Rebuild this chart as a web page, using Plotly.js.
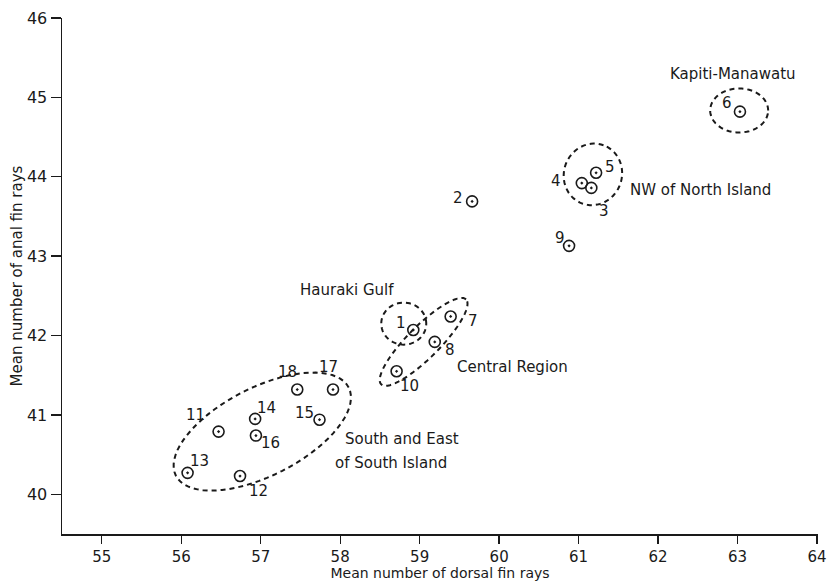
<!DOCTYPE html>
<html>
<head>
<meta charset="utf-8">
<script src="https://cdn.plot.ly/plotly-3.0.1.min.js"></script>
<style>html,body{margin:0;padding:0;background:#fff;}#chart{width:827px;height:584px;}</style>
</head>
<body>
<div id="chart"></div>
<script>
// ---- data ----
const sampleIds = ["1","2","3","4","5","6","7","8","9","10","11","12","13","14","15","16","17","18"];
const dorsalMeans = [58.92, 59.66, 61.16, 61.04, 61.22, 63.03, 59.39, 59.19, 60.88, 58.71, 56.47, 56.74, 56.08, 56.93, 57.74, 56.94, 57.91, 57.46];
const analMeans   = [42.07, 43.69, 43.86, 43.92, 44.05, 44.82, 42.24, 41.92, 43.13, 41.55, 40.79, 40.23, 40.27, 40.95, 40.94, 40.74, 41.32, 41.32];
const xTickVals = [55, 56, 57, 58, 59, 60, 61, 62, 63, 64];
const yTickVals = [40, 41, 42, 43, 44, 45, 46];

// ---- layout helpers (positions/styles, not data) ----
// pixel offsets of the number labels relative to each point
const labelOffsets = [[-12,7],[-14,3],[13,-23],[-26,2],[14,6],[-13,9],[22,-5],[15,-8],[-9,8],[13,-15],[-23,17],[18,-15],[12,12],[11,11],[-15,7],[15,-7],[-5,23],[-10,18]];
const regionNames = ["Kapiti-Manawatu","NW of North Island","Hauraki Gulf","Central Region","South and East","of South Island"];
const regionPos = [[62.94,45.29,"center"],[61.62,43.83,"left"],[57.47,42.58,"left"],[59.44,41.61,"left"],[58.04,40.70,"left"],[57.91,40.39,"left"]];
// ellipses: centre (data), semi-axes (px), rotation (deg, ccw)
const ellipses = [
  [63.02,44.835,29,22,0],
  [61.18,44.03,31,29,70],
  [58.80,42.15,22.5,21,0],
  [59.05,41.92,60,16,45],
  [57.02,40.79,97,44,27]
];
const SX = 79.5, SY = 79.3; // px per data unit

function ellipsePath(e){
  const [cx,cy,a,b,deg] = e; const th = deg*Math.PI/180; let p = "";
  for(let i=0;i<=72;i++){
    const t = i/72*2*Math.PI;
    const dx = a*Math.cos(th)*Math.cos(t) - b*Math.sin(th)*Math.sin(t);
    const dy = a*Math.sin(th)*Math.cos(t) + b*Math.cos(th)*Math.sin(t);
    p += (i===0?"M":"L") + (cx+dx/SX).toFixed(4) + "," + (cy+dy/SY).toFixed(4);
  }
  return p + "Z";
}

const FONT = "'DejaVu Sans', sans-serif";
const INK = "#1a1a1a";

const trace = {
  type: "scatter", mode: "markers",
  x: dorsalMeans, y: analMeans, text: sampleIds,
  marker: {symbol: "circle-open-dot", size: 11, color: INK, line: {width: 1.6, color: INK}},
  hoverinfo: "text+x+y"
};

const annotations = [];
sampleIds.forEach((id,i)=>{
  annotations.push({x: dorsalMeans[i], y: analMeans[i], xref:"x", yref:"y", text:id, showarrow:false,
    xshift: labelOffsets[i][0], yshift: labelOffsets[i][1], font:{family:FONT,size:15,color:INK}});
});
regionNames.forEach((n,i)=>{
  annotations.push({x: regionPos[i][0], y: regionPos[i][1], xref:"x", yref:"y", text:n, showarrow:false,
    xanchor: regionPos[i][2], yanchor:"middle", font:{family:FONT,size:15,color:INK}});
});

const shapes = ellipses.map(e=>({type:"path", xref:"x", yref:"y", path: ellipsePath(e),
  line:{color:INK, width:2, dash:"5px,4px"}, fillcolor:"rgba(0,0,0,0)"}));

const layout = {
  width: 827, height: 584,
  margin: {l:62, r:9, t:18, b:50},
  paper_bgcolor:"#fff", plot_bgcolor:"#fff",
  showlegend:false,
  font:{family:FONT, color:INK, size:15},
  xaxis:{range:[54.5,64.012], tickvals:xTickVals, ticktext:xTickVals.map(String), showgrid:false, zeroline:false,
    showline:true, linecolor:INK, linewidth:1.5, ticks:"outside", ticklen:8, tickwidth:1.3, tickcolor:INK,
    tickfont:{family:FONT,size:15,color:INK},
    title:{text:"Mean number of dorsal fin rays", font:{family:FONT,size:14,color:INK}, standoff:3}},
  yaxis:{range:[39.5,46], tickvals:yTickVals, ticktext:yTickVals.map(String), showgrid:false, zeroline:false,
    showline:true, linecolor:INK, linewidth:1.5, ticks:"outside", ticklen:10, tickwidth:1.3, tickcolor:INK,
    tickfont:{family:FONT,size:16,color:INK},
    title:{text:"Mean number of anal fin rays", font:{family:FONT,size:15,color:INK}, standoff:0}},
  annotations: annotations,
  shapes: shapes
};

Plotly.newPlot("chart", [trace], layout, {displayModeBar:false, staticPlot:true});
</script>
</body>
</html>
